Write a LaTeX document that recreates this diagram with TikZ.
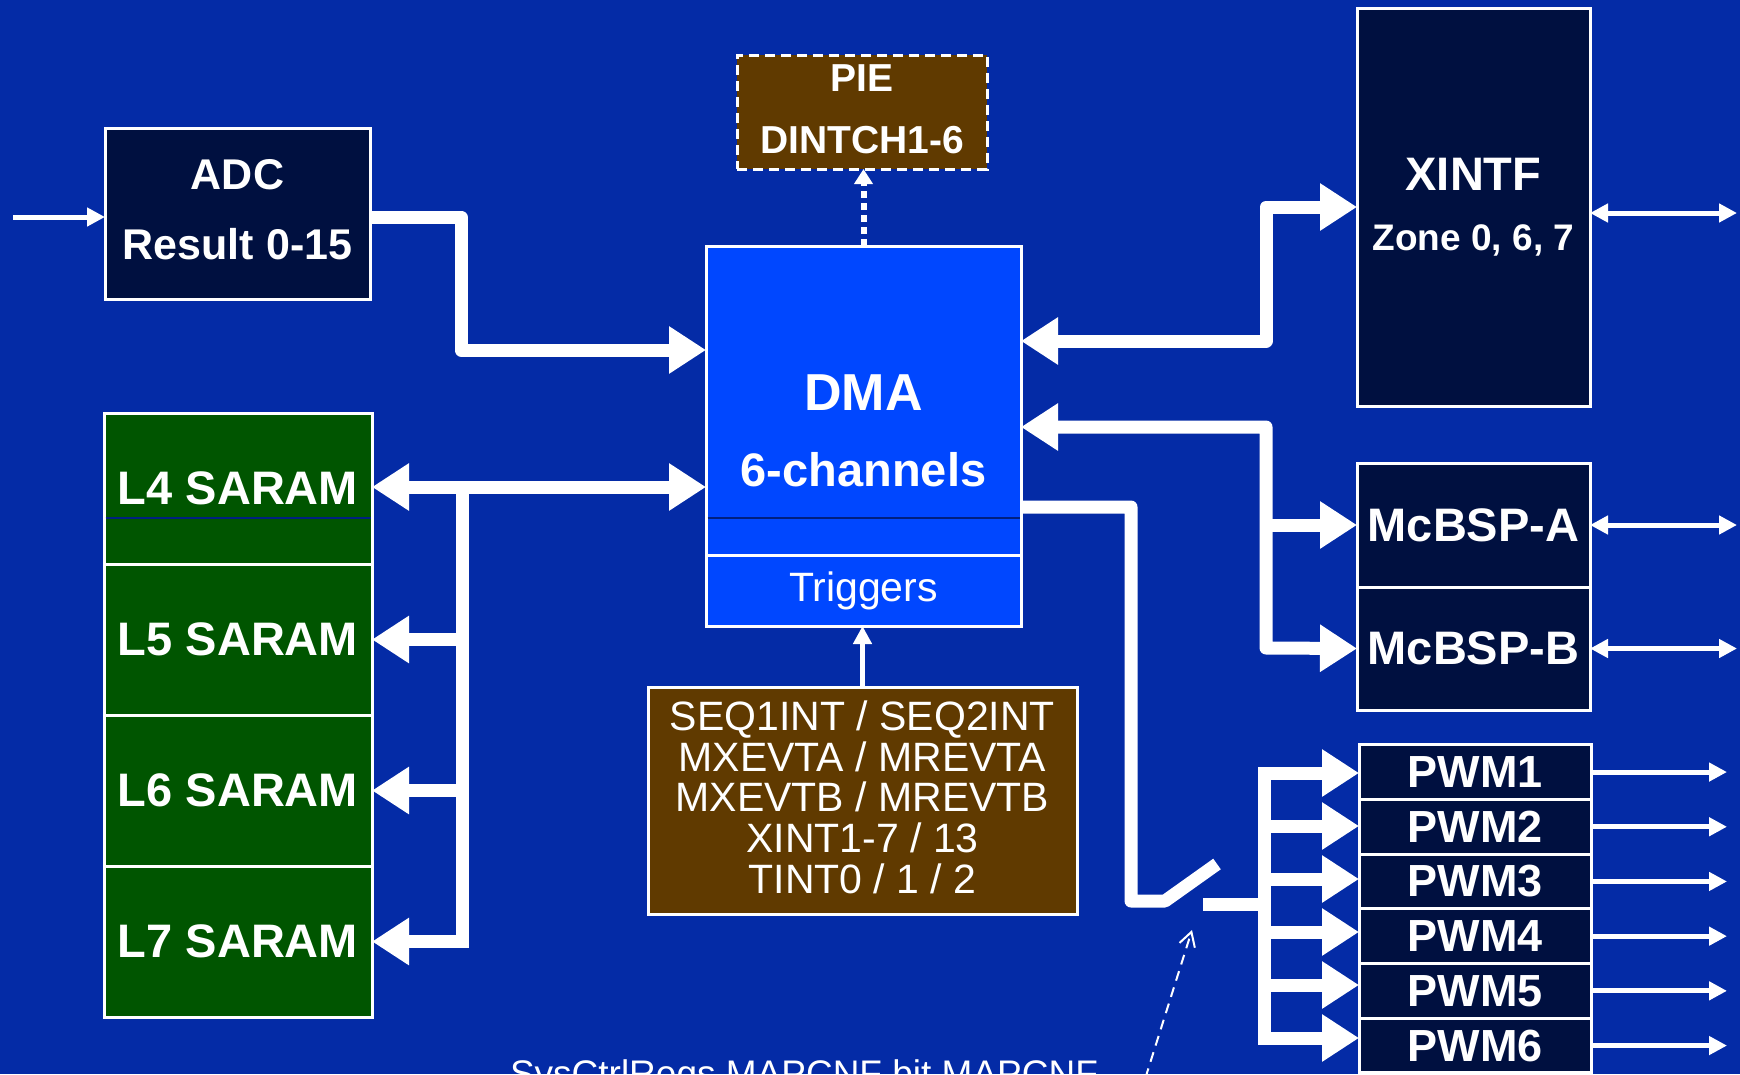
\documentclass[tikz,border=0pt]{standalone}
\usepackage{fontspec}
\setmainfont{Liberation Sans}
\usepackage{tikz}
\usetikzlibrary{arrows.meta,positioning}
\definecolor{bgblue}{RGB}{4,43,166}
\definecolor{navy}{RGB}{0,16,64}
\definecolor{dmablue}{RGB}{0,71,255}
\definecolor{ramgreen}{RGB}{0,85,0}
\definecolor{evbrown}{RGB}{96,58,0}
\definecolor{seamblue}{RGB}{0,32,128}

\begin{document}
\begin{tikzpicture}[x=1pt, y=-1pt, inner sep=0pt, outer sep=0pt, text=white,
  blk/.style={draw=white, line width=3pt, align=center},
  navybox/.style={blk, fill=navy, minimum width=233pt, font=\bfseries\fontsize{47}{60}\selectfont},
  rambox/.style={blk, fill=ramgreen, minimum width=268pt, minimum height=151pt, font=\bfseries\fontsize{47}{56}\selectfont},
  dmabox/.style={blk, fill=dmablue, minimum width=315pt},
  evbox/.style={blk, fill=evbrown},
  bus/.style={white, line width=13pt, line join=round},
  busarr/.style={bus, -{Triangle[length=37pt,width=45pt]}},
  busdbl/.style={bus, {Triangle[length=37pt,width=45pt]}-{Triangle[length=37pt,width=45pt]}},
  thinarr/.style={white, line width=5pt, -{Triangle[length=18pt,width=18pt]}},
  thindbl/.style={thinarr, {Triangle[length=18pt,width=18pt]}-{Triangle[length=18pt,width=18pt]}},
  seam/.style={draw=seamblue, line width=1.5pt, shorten <=1.5pt, shorten >=1.5pt}]
\useasboundingbox (0,0) rectangle (1740,1074);
\clip (0,0) rectangle (1740,1074);
\fill[bgblue] (0,0) rectangle (1740,1074);

\node[navybox, minimum width=265pt, minimum height=171pt, text depth=8pt, font=\bfseries\fontsize{43}{70}\selectfont] (adc) at (237.5,213.5) {ADC\\Result 0-15};
\node[evbox, dash pattern=on 10pt off 6pt, minimum width=250pt, minimum height=114pt, text depth=6pt, font=\bfseries\fontsize{39}{62}\selectfont] (pie) at (862,112) {PIE\\DINTCH1-6};
\node[dmabox, minimum height=309pt] (dma) at (863.5,400.5) {};
\node[dmabox, minimum height=71pt, below=0pt of dma, font=\fontsize{41}{48}\selectfont] (trig) {Triggers};
\node[font=\bfseries\fontsize{52}{76}\selectfont, align=center] (dmatxt) at (863.5,431) {DMA\\{\fontsize{47}{76}\selectfont 6-channels}};
\draw[seam] (dma.west |- 0,518) -- (dma.east |- 0,518);
\node[navybox, minimum height=398pt] (xintf) at (1473.5,207) {XINTF\\{\fontsize{37}{60}\selectfont Zone 0, 6, 7}};
\node[navybox, minimum height=124pt] (mcbspa) at (1473.5,525) {McBSP-A};
\node[navybox, minimum height=123pt, below=0pt of mcbspa] (mcbspb) {McBSP-B};
\foreach \i in {1,...,6}
  \node[navybox, minimum width=232pt, minimum height=54.7pt, font=\bfseries\fontsize{45}{50}\selectfont] (pwm\i) at (1475,{717.35+54.7*\i}) {PWM\i};
\node[rambox] (l4) at (238,488.5) {L4 SARAM};
\node[rambox, below=0pt of l4] (l5) {L5 SARAM};
\node[rambox, below=0pt of l5] (l6) {L6 SARAM};
\node[rambox, below=0pt of l6] (l7) {L7 SARAM};
\draw[seam] (l4.west |- 0,518) -- (l4.east |- 0,518);
\node[evbox, minimum width=429pt, minimum height=227pt, text depth=7pt, font=\fontsize{41}{40.75}\selectfont] (srcs) at (862.5,800.5) {SEQ1INT / SEQ2INT\\MXEVTA / MREVTA\\MXEVTB / MREVTB\\XINT1-7 / 13\\TINT0 / 1 / 2};
\node[font=\fontsize{37}{40}\selectfont, anchor=base west] (mapnote) at (510,1086) {SysCtrlRegs.MAPCNF bit MAPCNF};

\coordinate (adcin) at (13,217);
\coordinate (ltap) at (462,487);
\coordinate (swpivot) at (1165,901);
\coordinate (swblade) at (1217,864);
\coordinate (swcontact) at (1203,904);
\coordinate (pwmtap) at (1264,904);
\coordinate (notebend) at (1146,1076);
\coordinate (swmark) at (1192,930);
\coordinate (rimx) at (1737,0);

\draw[thinarr] (adcin) -- (adcin -| adc.west);
\draw[busarr] (adc.east |- adcin) -| (461,350) -- (dma.west |- 0,350);
\draw[busdbl] (l4.east |- ltap) -- (dma.west |- ltap);
\foreach \n in {l5,l6,l7}
  \draw[busarr, line join=miter] (ltap) |- (\n.east);
\draw[white, line width=6pt, dash pattern=on 7pt off 5pt, -{Triangle[length=15pt,width=18pt]}] (dma.north) -- (dma.north |- pie.south);
\draw[thinarr] (srcs.north) -- (srcs.north |- trig.south);
\draw[busdbl] (dma.east |- 0,341) -| (1266,207) -- (xintf.west);
\draw[busdbl] (dma.east |- 0,427) -| (1266,648) -- (mcbspb.west);
\draw[busarr] (mcbspa.west -| 1266,0) -- (mcbspa.west);
\draw[thindbl] (xintf.east |- 0,213) -- (rimx |- 0,213);
\draw[thindbl] (mcbspa.east) -- (rimx |- mcbspa.east);
\draw[thindbl] (mcbspb.east) -- (rimx |- mcbspb.east);
\draw[bus] (dma.east |- 0,507) -| (1131,901) -- (swpivot) -- (swblade);
\draw[bus] (swcontact) -- (pwmtap);
\foreach \i/\ay in {1/773,2/826,3/879,4/932,5/985,6/1038}
  \draw[busarr, line join=miter] (pwmtap) |- (pwm\i.west |- 0,\ay);
\foreach \i in {1,...,6}
  \draw[thinarr] (pwm\i.east) -- ([xshift=-10pt]rimx |- pwm\i.east);
\draw[white, line width=2pt, dash pattern=on 10pt off 7pt, -{Straight Barb[length=14pt,width=16pt]}, shorten <=12pt] (mapnote.east) -- (notebend) -- (swmark);
\end{tikzpicture}
\end{document}
